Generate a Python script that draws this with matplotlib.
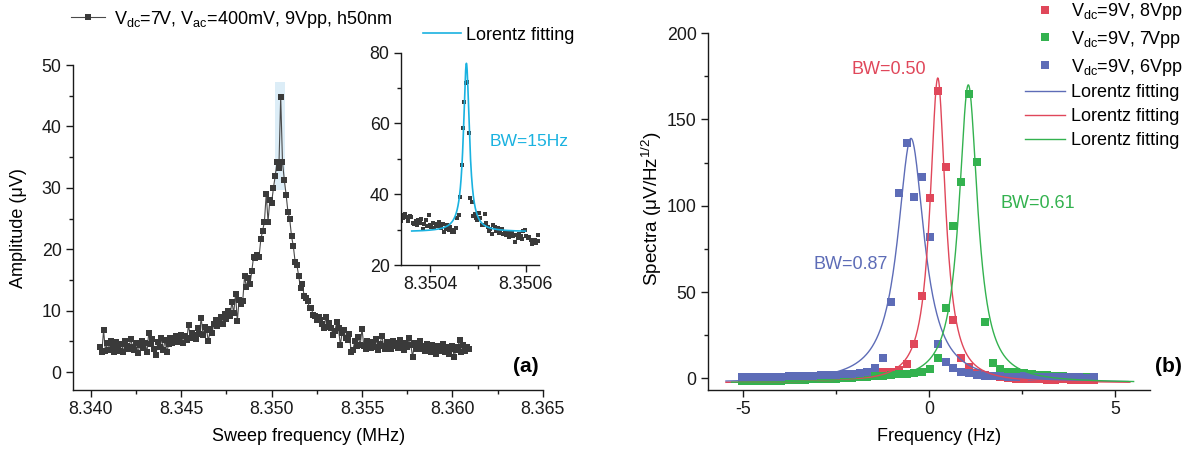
import numpy as np
import matplotlib
matplotlib.use('Agg')
import matplotlib.pyplot as plt
from matplotlib.patches import Rectangle
from matplotlib.ticker import MultipleLocator, FormatStrFormatter

plt.rcParams['font.family'] = ['Liberation Sans', 'DejaVu Sans']
plt.rcParams['mathtext.fontset'] = 'custom'
plt.rcParams['mathtext.rm'] = 'Liberation Sans'
plt.rcParams['mathtext.it'] = 'Liberation Sans:italic'
plt.rcParams['mathtext.bf'] = 'Liberation Sans:bold'
plt.rcParams['axes.unicode_minus'] = False

# ---------------- data: panel (a) main sweep ----------------
sweep_start = 8.3405      # MHz
sweep_step = 0.0001       # MHz
amplitude = [
    4.1, 3.2, 6.8, 3.4, 4.8, 3.6, 5.0, 4.2, 3.3, 4.9,
    4.0, 3.5, 4.6, 3.2, 5.1, 4.3, 3.8, 5.4, 4.1, 3.6,
    4.8, 3.1, 4.4, 5.0, 3.9, 4.7, 3.2, 6.4, 4.5, 5.3,
    3.7, 2.8, 4.9, 4.0, 5.5, 3.6, 5.2, 3.2, 4.6, 5.6,
    4.8, 5.4, 5.8, 4.9, 5.5, 6.0, 4.7, 5.9, 5.2, 7.7,
    5.6, 6.3, 6.1, 5.4, 7.2, 6.2, 8.8, 6.0, 7.4, 6.8,
    5.0, 7.0, 6.4, 7.8, 8.4, 7.5, 8.2, 8.9, 7.9, 9.5,
    8.6, 10.0, 9.2, 11.4, 9.6, 12.7, 8.3, 11.8, 11.0, 11.6,
    15.6, 13.8, 15.3, 14.3, 16.4, 18.8, 18.5, 19.0, 18.7, 21.6,
    23.0, 24.5, 29.0, 24.5, 28.0, 27.6, 30.0, 32.0, 34.2, 33.2,
    44.8, 34.2, 31.3, 28.9, 26.1, 24.9, 22.1, 20.5, 17.9, 17.4,
    15.6, 13.7, 14.4, 12.3, 12.0, 11.5, 10.4, 10.4, 9.3, 9.2,
    8.5, 9.0, 8.5, 7.8, 7.1, 9.0, 7.3, 8.0, 7.1, 6.0,
    6.6, 8.2, 7.1, 4.4, 6.4, 6.8, 5.5, 5.2, 6.2, 3.3,
    3.6, 5.0, 4.2, 5.7, 4.4, 7.0, 4.3, 3.8, 5.1, 4.5,
    3.9, 4.9, 4.1, 5.3, 3.6, 4.6, 5.9, 4.2, 3.8, 4.9,
    4.4, 3.7, 5.0, 4.2, 4.8, 3.9, 5.2, 4.3, 3.6, 4.7,
    4.0, 5.5, 4.4, 2.4, 4.8, 3.7, 4.5, 5.0, 3.8, 4.3,
    3.5, 4.6, 4.0, 3.2, 4.4, 3.8, 2.9, 4.2, 3.4, 3.9,
    4.5, 3.3, 4.0, 3.0, 3.7, 4.2, 2.5, 3.6, 4.1, 5.2,
    3.2, 4.4, 3.5, 4.0, 3.8,
]
sweep_freq = sweep_start + sweep_step * np.arange(len(amplitude))

# highlighted region (MHz, uV)
highlight_x = [8.35019, 8.35075]
highlight_y = [29.6, 47.2]

# ---------------- data: panel (a) inset (fine sweep) ----------------
inset_start = 8.350340
inset_step = 0.000003
inset_amp = [
    32.5, 33.4, 34.0, 34.3, 33.6, 32.4, 33.8, 33.5, 32.0, 31.6,
    32.5, 31.2, 32.8, 31.9, 33.0, 30.2, 31.5, 32.6, 31.0, 34.2,
    31.4, 30.8, 31.9, 30.5, 31.7, 30.9, 32.1, 31.0, 30.4, 31.6,
    29.3, 30.1, 31.2, 29.8, 30.6, 29.4, 29.9, 29.3, 30.5, 33.4,
    34.1, 39.3, 48.4, 58.8, 66.1, 71.5, 71.8, 57.4, 39.0, 37.9,
    33.8, 34.5, 33.2, 32.6, 34.8, 33.4, 31.4, 31.2, 34.4, 32.0,
    30.8, 29.5, 30.3, 28.9, 31.3, 30.7, 29.6, 30.5, 29.0, 29.9,
    30.2, 28.7, 29.4, 28.6, 29.0, 27.9, 28.8, 29.3, 28.1, 26.5,
    28.4, 27.6, 28.9, 28.2, 27.4, 29.7, 29.9, 28.3, 27.6, 27.9,
    27.2, 25.9, 26.4, 27.0, 26.1, 28.4, 26.7,
]
inset_freq = inset_start + inset_step * np.arange(len(inset_amp))
# Lorentz fit of inset: center (MHz), FWHM (MHz), peak, offset, range
inset_fit_center = 8.350476
inset_fit_fwhm = 0.000015
inset_fit_peak = 77.0
inset_fit_offset = 29.4
inset_fit_range = [8.350362, 8.350599]

# ---------------- data: panel (b) ----------------
detuning = [-5.01, -4.80, -4.59, -4.38, -4.17, -3.96, -3.75, -3.54, -3.33, -3.12,
            -2.91, -2.70, -2.49, -2.28, -2.07, -1.86, -1.65, -1.44, -1.23, -1.02,
            -0.81, -0.60, -0.39, -0.18, 0.03, 0.24, 0.45, 0.66, 0.87, 1.08,
            1.29, 1.50, 1.71, 1.92, 2.13, 2.34, 2.55, 2.76, 2.97, 3.18,
            3.39, 3.60, 3.81, 4.02, 4.23, 4.44]
spec_8vpp = [-0.8, -0.6, -0.7, -0.5, -0.4, -0.5, -0.3, -0.2, 0.0, 0.1,
             0.2, 0.4, 0.6, 0.8, 1.0, 1.4, 1.9, 2.6, 3.5, 4.0,
             4.8, 8.1, 19.7, 47.7, 104.7, 166.7, 122.6, 33.8, 11.6, 6.7,
             3.4, 2.2, 1.3, 0.6, 0.2, -0.2, -0.4, -0.6, -0.5, -0.7,
             -0.8, -0.6, -0.9, -0.8, -1.0, -0.9]
spec_7vpp = [-1.6, -1.4, -1.5, -1.3, -1.2, -1.3, -1.0, -0.9, -0.8, -0.6,
             -0.5, -0.3, -0.1, 0.1, 0.3, 0.6, 0.9, 1.2, 1.6, 1.9,
             2.3, 2.8, 3.0, 3.5, 5.2, 11.6, 41.0, 88.4, 114.0, 164.6,
             125.5, 32.8, 8.7, 5.2, 4.0, 3.5, 3.0, 2.6, 2.2, 1.9,
             1.6, 1.4, 1.1, 0.9, 0.7, 0.5]
spec_6vpp = [0.6, 0.8, 0.7, 0.9, 1.0, 0.9, 1.2, 1.4, 1.3, 1.6,
             1.8, 2.0, 2.2, 2.4, 2.7, 3.1, 3.6, 5.8, 11.9, 44.4,
             107.6, 136.6, 105.3, 116.9, 82.1, 19.7, 9.6, 5.8, 4.0, 3.0,
             1.9, 1.2, 1.5, 1.3, 1.1, 1.0, 1.2, 0.9, 0.8, 1.0,
             0.7, 0.8, 0.6, 0.7, 0.5, 0.6]
series_labels = [r'V$_{\mathrm{dc}}$=9V, 8Vpp', r'V$_{\mathrm{dc}}$=9V, 7Vpp',
                 r'V$_{\mathrm{dc}}$=9V, 6Vpp']
# Lorentz fit parameters (order: 6Vpp blue, 8Vpp red, 7Vpp green)
fit_centers = [-0.48, 0.24, 1.06]
fit_fwhm = [0.87, 0.50, 0.61]
fit_peaks = [139.0, 174.0, 170.0]
fit_offset = -2.6
fit_ranges = [[-5.45, 5.35], [-5.45, 5.40], [-5.30, 5.50]]
bw_labels = ['BW=0.87', 'BW=0.50', 'BW=0.61']

RED = '#e0475a'
GREEN = '#33b24f'
BLUE = '#5d6cb7'
CYAN = '#1ab2e0'
DARK = '#3a3a3a'


def lorentz(x, xc, w, peak, y0):
    hw2 = (w / 2.0) ** 2
    return y0 + (peak - y0) * hw2 / ((x - xc) ** 2 + hw2)


W, H = 1194, 450
fig = plt.figure(figsize=(W / 100, H / 100), dpi=100)
TICK_FS = 12.8


def style_axes(ax, fs=TICK_FS):
    for s in ['top', 'right']:
        ax.spines[s].set_visible(False)
    for s in ['left', 'bottom']:
        ax.spines[s].set_linewidth(1.0)
        ax.spines[s].set_color('#1a1a1a')
    ax.tick_params(which='major', direction='out', length=5, width=1.0,
                   labelsize=fs, colors='#1a1a1a', pad=3)
    ax.tick_params(which='minor', direction='out', length=3, width=1.0,
                   colors='#1a1a1a')


# ---------------- panel (a) ----------------
axa_l, axa_r, axa_b, axa_t = 72.7, 542.7, 390, 65
axa = fig.add_axes([axa_l / W, 1 - axa_b / H, (axa_r - axa_l) / W, (axa_b - axa_t) / H])
axa.add_patch(Rectangle((highlight_x[0], highlight_y[0]), highlight_x[1] - highlight_x[0],
                        highlight_y[1] - highlight_y[0], facecolor='#dcedf7',
                        edgecolor='none', zorder=1))
main_line, = axa.plot(sweep_freq, amplitude, '-', color='#4a4a4a', lw=0.8,
                      marker='s', ms=3.7, mfc=DARK, mec=DARK, mew=0, zorder=3)
axa.set_xlim(8.33899, 8.365)
axa.set_ylim(-2.93, 50)
axa.xaxis.set_major_locator(MultipleLocator(0.005))
axa.xaxis.set_minor_locator(MultipleLocator(0.0025))
axa.xaxis.set_major_formatter(FormatStrFormatter('%.3f'))
axa.yaxis.set_major_locator(MultipleLocator(10))
axa.yaxis.set_minor_locator(MultipleLocator(5))
style_axes(axa)
axa.set_xlabel('Sweep frequency (MHz)', fontsize=13)
axa.xaxis.set_label_coords((308.3 - axa_l) / (axa_r - axa_l), -(428 - axa_b) / (axa_b - axa_t))
axa.set_ylabel('Amplitude (μV)', fontsize=13)
axa.yaxis.set_label_coords(-(axa_l - 27) / (axa_r - axa_l), (axa_b - 228.5) / (axa_b - axa_t))
fig.text(526 / W, 1 - 367 / H, '(a)', fontsize=15, fontweight='bold',
         ha='center', va='center')

# inset
axi = fig.add_axes([400.7 / W, 1 - 265 / H, 138.6 / W, 212.3 / H])
axi.plot(inset_freq, inset_amp, 's', ms=3.0, mfc=DARK, mec=DARK, mew=0, zorder=2)
xf = np.linspace(inset_fit_range[0], inset_fit_range[1], 600)
fit_line, = axi.plot(xf, lorentz(xf, inset_fit_center, inset_fit_fwhm,
                                 inset_fit_peak, inset_fit_offset),
                     color=CYAN, lw=1.2, zorder=3)
axi.set_xlim(8.350339, 8.350628)
axi.set_ylim(20, 80)
axi.set_xticks([8.3504, 8.3506])
axi.xaxis.set_minor_locator(MultipleLocator(0.0001))
axi.xaxis.set_major_formatter(FormatStrFormatter('%.4f'))
axi.yaxis.set_major_locator(MultipleLocator(20))
axi.yaxis.set_minor_locator(MultipleLocator(10))
axi.patch.set_alpha(0)
style_axes(axi)
axi.text(8.350525, 54.8, 'BW=15Hz', color=CYAN, fontsize=12.6, ha='left', va='center')

fig.legend([main_line], [r'V$_{\mathrm{dc}}$=7V, V$_{\mathrm{ac}}$=400mV, 9Vpp, h50nm'],
           loc='center left', bbox_to_anchor=(71 / W, 1 - 19 / H), frameon=False,
           fontsize=13, handlelength=1.9, handletextpad=0.5, borderpad=0,
           borderaxespad=0)
fig.legend([fit_line], ['Lorentz fitting'], loc='center left',
           bbox_to_anchor=(423 / W, 1 - 35 / H), frameon=False, fontsize=13,
           handlelength=2.1, handletextpad=0.3, borderpad=0, borderaxespad=0)

# ---------------- panel (b) ----------------
axb_l, axb_r, axb_b, axb_t = 707.7, 1150, 390, 33
axb = fig.add_axes([axb_l / W, 1 - axb_b / H, (axb_r - axb_l) / W, (axb_b - axb_t) / H])
h_red, = axb.plot(detuning, spec_8vpp, 's', ms=6.3, color=RED, mew=0, zorder=2)
h_green, = axb.plot(detuning, spec_7vpp, 's', ms=6.3, color=GREEN, mew=0, zorder=2)
h_blue, = axb.plot(detuning, spec_6vpp, 's', ms=6.3, color=BLUE, mew=0, zorder=2)
fit_colors = [BLUE, RED, GREEN]
fit_handles = []
for c, w, p, r, col in zip(fit_centers, fit_fwhm, fit_peaks, fit_ranges, fit_colors):
    xx = np.linspace(r[0], r[1], 800)
    ln, = axb.plot(xx, lorentz(xx, c, w, p, fit_offset), color=col, lw=1.0, zorder=3)
    fit_handles.append(ln)
axb.set_xlim(-5.94, 5.94)
axb.set_ylim(-6.7, 200)
axb.xaxis.set_major_locator(MultipleLocator(5))
axb.xaxis.set_minor_locator(MultipleLocator(2.5))
axb.yaxis.set_major_locator(MultipleLocator(50))
axb.yaxis.set_minor_locator(MultipleLocator(25))
style_axes(axb)
axb.set_xlabel('Frequency (Hz)', fontsize=13)
axb.xaxis.set_label_coords((939.5 - axb_l) / (axb_r - axb_l), -(428 - axb_b) / (axb_b - axb_t))
axb.set_ylabel(r'Spectra (μV/Hz$^{1/2}$)', fontsize=13.6)
axb.yaxis.set_label_coords(-(axb_l - 664) / (axb_r - axb_l), (axb_b - 209) / (axb_b - axb_t))

axb.text(-3.10, 65.7, bw_labels[0], color=BLUE, fontsize=13, ha='left', va='center')
axb.text(-2.07, 179.0, bw_labels[1], color=RED, fontsize=13, ha='left', va='center')
axb.text(1.92, 101.0, bw_labels[2], color=GREEN, fontsize=13, ha='left', va='center')
fig.text(1168 / W, 1 - 367 / H, '(b)', fontsize=15, fontweight='bold',
         ha='center', va='center')

fig.legend([h_red, h_green, h_blue] + fit_handles,
           series_labels + ['Lorentz fitting'] * 3,
           loc='upper left', bbox_to_anchor=(1025 / W, 0.998), frameon=False,
           fontsize=13, handlelength=2.2, handletextpad=0.35, borderpad=0,
           borderaxespad=0, labelspacing=0.38)

fig.savefig('out.png', dpi=100)
